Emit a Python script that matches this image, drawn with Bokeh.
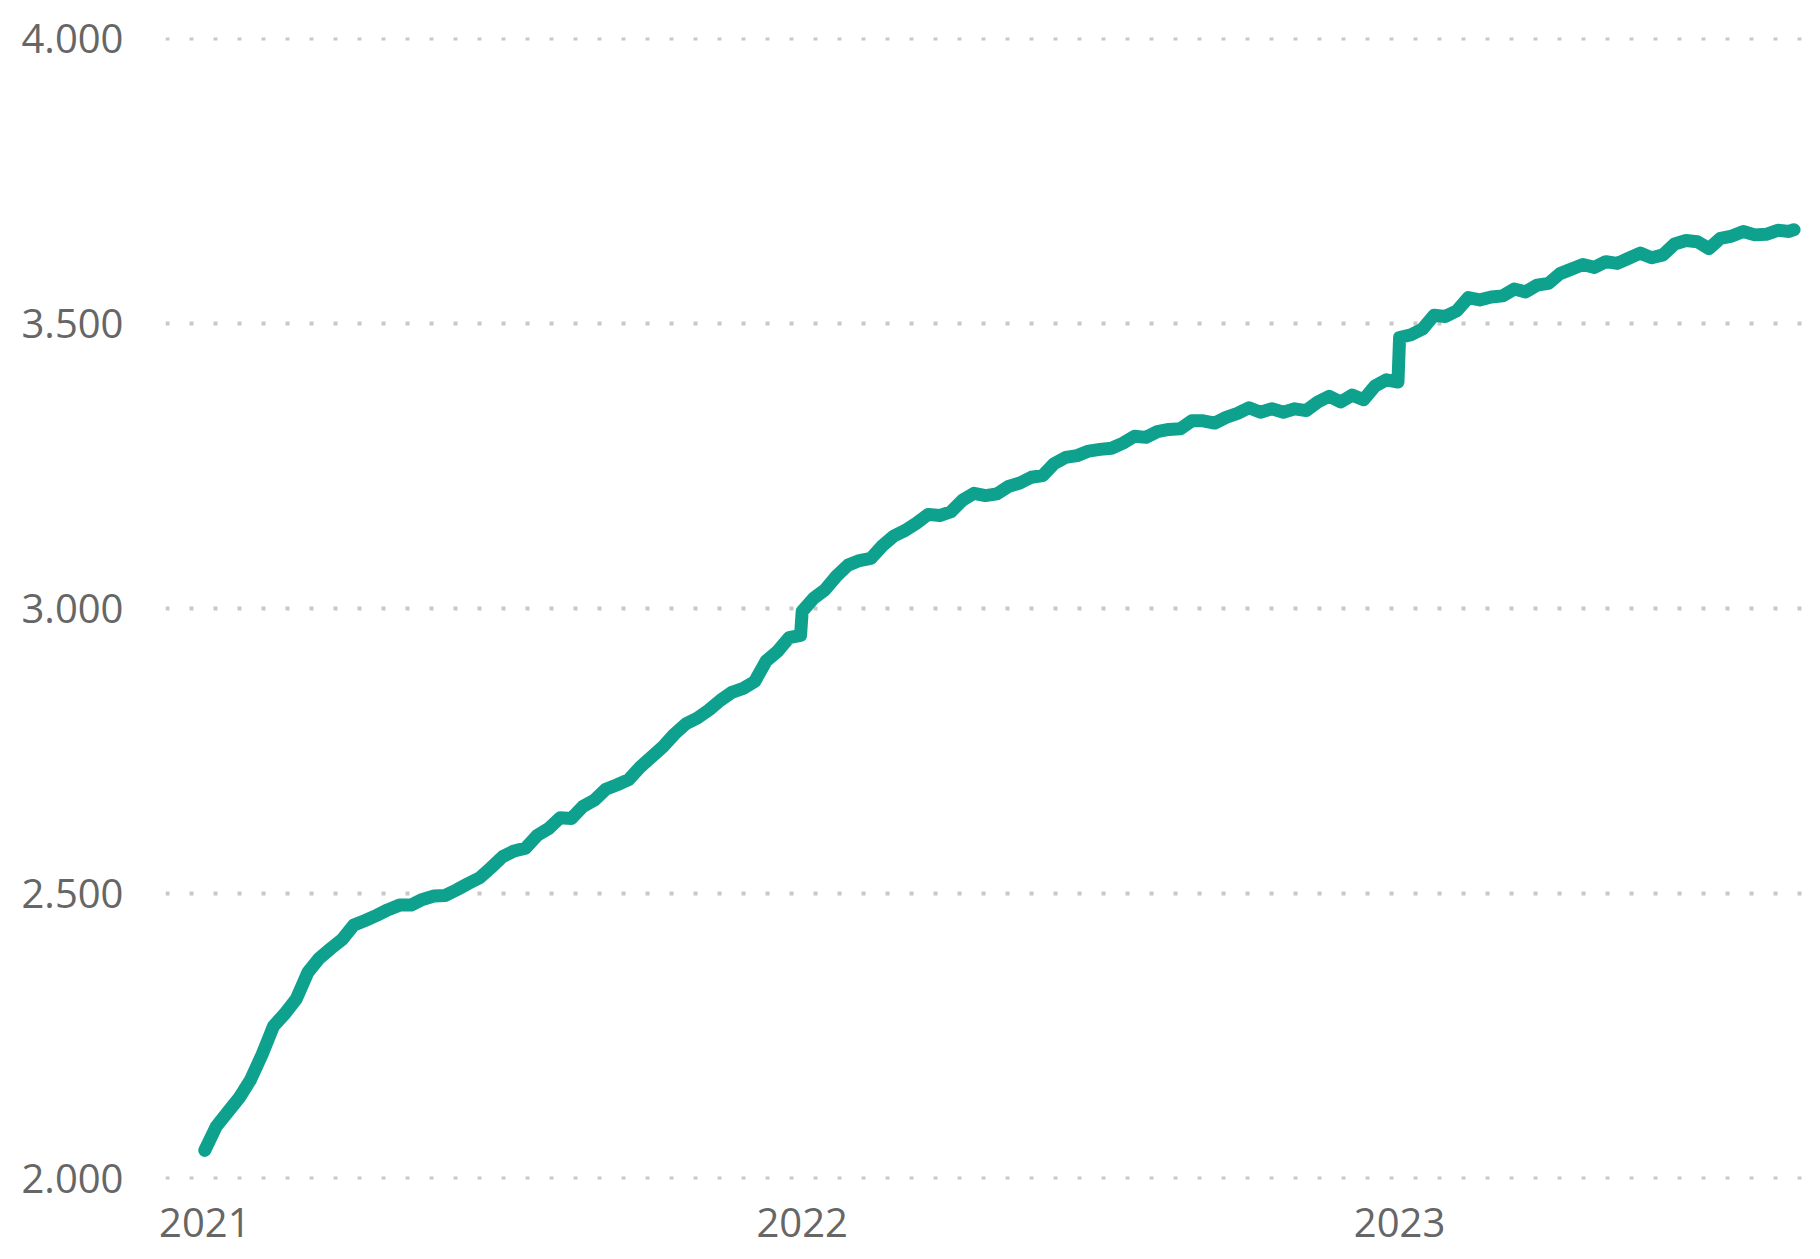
import pandas as pd
from bokeh.plotting import figure
from bokeh.models import ColumnDataSource, FixedTicker, DatetimeTickFormatter, Range1d
from bokeh.embed import file_html
from bokeh.resources import INLINE

# Weekly readings, one list per year (first point of each year is Jan 1)
values_2021 = [2050, 2092, 2117, 2142, 2174, 2218, 2268, 2290, 2316, 2362,
               2387, 2404, 2420, 2445, 2453, 2462, 2472, 2480, 2480, 2490,
               2496, 2497, 2507, 2518, 2528, 2546, 2565, 2575, 2580, 2602,
               2614, 2633, 2632, 2653, 2664, 2683, 2691, 2700, 2722, 2740,
               2758, 2780, 2798, 2808, 2822, 2839, 2853, 2860, 2872, 2908,
               2925, 2949, 2953]
values_2022 = [2995, 3018, 3033, 3057, 3076, 3084, 3088, 3110, 3127, 3137,
               3150, 3165, 3163, 3170, 3190, 3202, 3198, 3201, 3214, 3220,
               3230, 3233, 3254, 3265, 3268, 3276, 3279, 3281, 3290, 3302,
               3300, 3310, 3314, 3315, 3329, 3329, 3325, 3335, 3342, 3352,
               3344, 3350, 3344, 3350, 3347, 3362, 3372, 3362, 3374, 3366,
               3390, 3401, 3397]
values_2023 = [3475, 3480, 3490, 3514, 3512, 3522, 3545, 3541, 3546, 3548,
               3560, 3555, 3567, 3570, 3587, 3595, 3603, 3598, 3608, 3605,
               3614, 3623, 3615, 3620, 3639, 3645, 3643, 3631, 3649, 3653,
               3661, 3655, 3656, 3663, 3661, 3664]

dates_2021 = list(pd.date_range("2021-01-01", periods=53, freq="7D"))
dates_2022 = list(pd.date_range("2022-01-01", periods=53, freq="7D"))
dates_2023 = list(pd.date_range("2023-01-01", periods=35, freq="7D")) + [pd.Timestamp("2023-08-30")]

y_ticks = [2000, 2500, 3000, 3500, 4000]
y_tick_labels = ["2.000", "2.500", "3.000", "3.500", "4.000"]
x_tick_years = ["2021-01-01", "2022-01-01", "2023-01-01"]

dates = dates_2021 + dates_2022 + dates_2023
vals = values_2021 + values_2022 + values_2023
src = ColumnDataSource(dict(date=dates, value=vals))

p = figure(width=1812, height=1251, x_axis_type="datetime",
           output_backend="svg", toolbar_location=None,
           x_range=Range1d(pd.Timestamp("2020-12-08"), pd.Timestamp("2023-09-06")),
           y_range=Range1d(1999, 4001),
           min_border_left=165, min_border_right=7, min_border_top=37, min_border_bottom=72)
p.outline_line_color = None
p.background_fill_color = "white"
p.border_fill_color = "white"

p.line("date", "value", source=src, line_color="#0EA28E", line_width=13,
       line_join="round", line_cap="round")

# y axis
p.yaxis.ticker = FixedTicker(ticks=y_ticks)
p.yaxis.major_label_overrides = {t: l for t, l in zip(y_ticks, y_tick_labels)}
p.yaxis.axis_line_color = None
p.yaxis.major_tick_line_color = None
p.yaxis.minor_tick_line_color = None
p.yaxis.major_label_text_font = "Open Sans"
p.yaxis.major_label_text_font_size = "40px"
p.yaxis.major_label_text_color = "#666666"
p.yaxis.major_label_standoff = 36

# x axis
x_tick_ms = [pd.Timestamp(d).value // 10**6 for d in x_tick_years]
p.xaxis.ticker = FixedTicker(ticks=x_tick_ms)
p.xaxis.formatter = DatetimeTickFormatter(years="%Y", months="%Y", days="%Y",
                                          hours="%Y", minutes="%Y", seconds="%Y",
                                          milliseconds="%Y", microseconds="%Y")
p.xaxis.axis_line_color = None
p.xaxis.major_tick_line_color = None
p.xaxis.minor_tick_line_color = None
p.xaxis.major_label_text_font = "Open Sans"
p.xaxis.major_label_text_font_size = "40px"
p.xaxis.major_label_text_color = "#666666"
p.xaxis.major_label_standoff = 22

# grid
p.xgrid.grid_line_color = None
p.ygrid.grid_line_color = "#c8c8c8"
p.ygrid.grid_line_width = 4
p.ygrid.grid_line_dash = "4 20"

open("out.html", "w").write(file_html(p, INLINE))
